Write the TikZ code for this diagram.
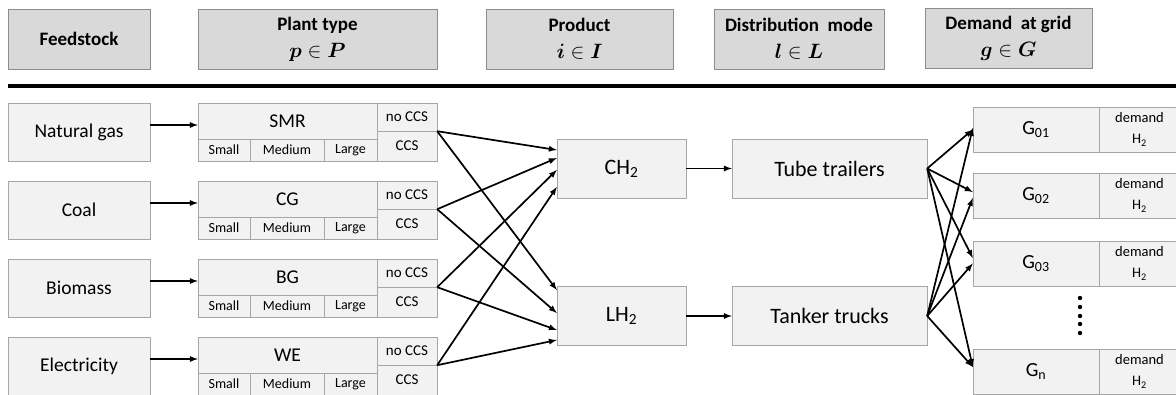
\documentclass[tikz,border=0pt]{standalone}
\usepackage{fontspec}
\usepackage{amsmath}
\setmainfont{Carlito}

\definecolor{hdrfill}{HTML}{D9D9D9}
\definecolor{hdrline}{HTML}{8C8C8C}
\definecolor{boxfill}{HTML}{F2F2F2}
\definecolor{boxline}{HTML}{A6A6A6}

\begin{document}
\begin{tikzpicture}[x=1pt,y=-1pt,>=latex,
  hdr/.style={draw=hdrline,fill=hdrfill,inner sep=0pt,align=center,minimum height=60pt,font=\bfseries\fontsize{19}{27}\selectfont},
  box/.style={draw=boxline,fill=boxfill,inner sep=0pt,font=\fontsize{19.5}{22}\selectfont},
  feed/.style={box,minimum width=142pt,minimum height=58pt},
  plant/.style={box,minimum width=179pt,minimum height=36pt},
  cell/.style={box,minimum height=22pt,font=\fontsize{14}{16}\selectfont},
  noccs/.style={box,minimum width=60pt,minimum height=28pt,font=\fontsize{15}{16}\selectfont},
  ccs/.style={box,minimum width=60pt,minimum height=30pt,font=\fontsize{15}{16}\selectfont},
  prod/.style={box,minimum width=129pt,minimum height=59pt,font=\fontsize{22}{24}\selectfont},
  mode/.style={box,minimum width=195pt,minimum height=59pt,font=\fontsize{22}{24}\selectfont},
  grid/.style={box,minimum width=126pt,minimum height=45pt,font=\fontsize{20}{22}\selectfont},
  dem/.style={box,minimum width=81pt,minimum height=45pt,align=center,font=\fontsize{14.5}{21}\selectfont},
  arr/.style={->,line width=1.7pt}]
\useasboundingbox (0,0) rectangle (1176,394);

% headers
\node[hdr,minimum width=142pt] (hfeed) at (79,39) {Feedstock};
\node[hdr,minimum width=239pt] (hplant) at (317.5,39) {Plant type\\{\fontsize{22}{27}\selectfont$\boldsymbol{p}\in\boldsymbol{P}$}};
\node[hdr,minimum width=187pt] (hprod) at (579.5,39) {Product\\{\fontsize{22}{27}\selectfont$\boldsymbol{i}\in\boldsymbol{I}$}};
\node[hdr,minimum width=170pt] (hmode) at (799,39) {Distribution~~mode\\{\fontsize{22}{27}\selectfont$\boldsymbol{l}\in\boldsymbol{L}$}};
\node[hdr,minimum width=167pt] (hgrid) at (1008.5,38) {Demand~~at grid\\{\fontsize{22}{27}\selectfont$\boldsymbol{g}\in\boldsymbol{G}$}};
\draw[line width=4pt] (8,86) -- (1176,86);

% feedstock
\node[feed] (ng) at (79,132) {Natural gas};
\node[feed] (coal) at (79,210) {Coal};
\node[feed] (bio) at (79,288) {Biomass};
\node[feed] (elec) at (79,366) {Electricity};

% plant types
\node[plant] (smr) at (287.5,121) {SMR};
\node[cell,minimum width=52pt] (smrS) at (224,150) {Small};
\node[cell,minimum width=74pt] (smrM) at (287,150) {Medium};
\node[cell,minimum width=53pt] (smrL) at (350.5,150) {Large};
\node[noccs] (smrN) at (407,117) {no CCS};
\node[ccs] (smrC) at (407,146) {CCS};

\node[plant] (cg) at (287.5,199) {CG};
\node[cell,minimum width=52pt] (cgS) at (224,228) {Small};
\node[cell,minimum width=74pt] (cgM) at (287,228) {Medium};
\node[cell,minimum width=53pt] (cgL) at (350.5,228) {Large};
\node[noccs] (cgN) at (407,195) {no CCS};
\node[ccs] (cgC) at (407,224) {CCS};

\node[plant] (bg) at (287.5,277) {BG};
\node[cell,minimum width=52pt] (bgS) at (224,306) {Small};
\node[cell,minimum width=74pt] (bgM) at (287,306) {Medium};
\node[cell,minimum width=53pt] (bgL) at (350.5,306) {Large};
\node[noccs] (bgN) at (407,273) {no CCS};
\node[ccs] (bgC) at (407,302) {CCS};

\node[plant] (we) at (287.5,355) {WE};
\node[cell,minimum width=52pt] (weS) at (224,384) {Small};
\node[cell,minimum width=74pt] (weM) at (287,384) {Medium};
\node[cell,minimum width=53pt] (weL) at (350.5,384) {Large};
\node[noccs] (weN) at (407,351) {no CCS};
\node[ccs] (weC) at (407,380) {CCS};

% products and modes
\node[prod] (ch) at (621.5,168.5) {CH\textsubscript{2}};
\node[prod] (lh) at (621.5,316) {LH\textsubscript{2}};
\node[mode] (tube) at (829.5,168.5) {Tube trailers};
\node[mode] (tank) at (829.5,316) {Tanker trucks};

% grids
\node[grid] (g1) at (1036,129.5) {G\textsubscript{01}};
\node[dem] (d1) at (1139.5,129.5) {demand\\H\textsubscript{2}};
\node[grid] (g2) at (1036,195.5) {G\textsubscript{02}};
\node[dem] (d2) at (1139.5,195.5) {demand\\H\textsubscript{2}};
\node[grid] (g3) at (1036,263.5) {G\textsubscript{03}};
\node[dem] (d3) at (1139.5,263.5) {demand\\H\textsubscript{2}};
\node[grid] (gn) at (1036,371.5) {G\textsubscript{n}};
\node[dem] (dn) at (1139.5,371.5) {demand\\H\textsubscript{2}};

\fill (1080,298) circle (2.2pt);
\fill (1080,307) circle (2.2pt);
\fill (1080,316) circle (2.2pt);
\fill (1080,324) circle (2.2pt);
\fill (1080,333) circle (2.2pt);

% feedstock to plant
\draw[arr] ([yshift=-4pt]ng.east |- smr.west) -- ([yshift=-4pt]smr.west);
\draw[arr] ([yshift=-4pt]coal.east |- cg.west) -- ([yshift=-4pt]cg.west);
\draw[arr] ([yshift=-4pt]bio.east |- bg.west) -- ([yshift=-4pt]bg.west);
\draw[arr] ([yshift=-4pt]elec.east |- we.west) -- ([yshift=-4pt]we.west);

% plant to product
\draw[arr] (smrN.south east) -- ([yshift=18.5pt]ch.west);
\draw[arr] (smrN.south east) -- ([yshift=26pt]lh.west);
\draw[arr] (cgN.south east) -- ([yshift=10.5pt]ch.west);
\draw[arr] (cgN.south east) -- ([yshift=3pt]lh.west);
\draw[arr] (bgN.south east) -- ([yshift=-1.5pt]ch.west);
\draw[arr] (bgN.south east) -- ([yshift=-14pt]lh.west);
\draw[arr] (weN.south east) -- ([yshift=-18.5pt]ch.west);
\draw[arr] (weN.south east) -- ([yshift=-24pt]lh.west);

% product to mode
\draw[arr] (ch.east) -- (tube.west);
\draw[arr] (lh.east) -- (tank.west);

% mode to grid
\draw[arr] (tube.east) -- (g1.west);
\draw[arr] (tube.east) -- ([yshift=3.5pt]g2.west);
\draw[arr] (tube.east) -- ([yshift=5.5pt]g3.west);
\draw[arr] (tube.east) -- ([yshift=4.5pt]gn.west);
\draw[arr] (tank.east) -- ([yshift=1.5pt]g1.west);
\draw[arr] (tank.east) -- ([yshift=-2.5pt]g2.west);
\draw[arr] (tank.east) -- (g3.west);
\draw[arr] (tank.east) -- ([yshift=4.5pt]gn.west);
\end{tikzpicture}
\end{document}
